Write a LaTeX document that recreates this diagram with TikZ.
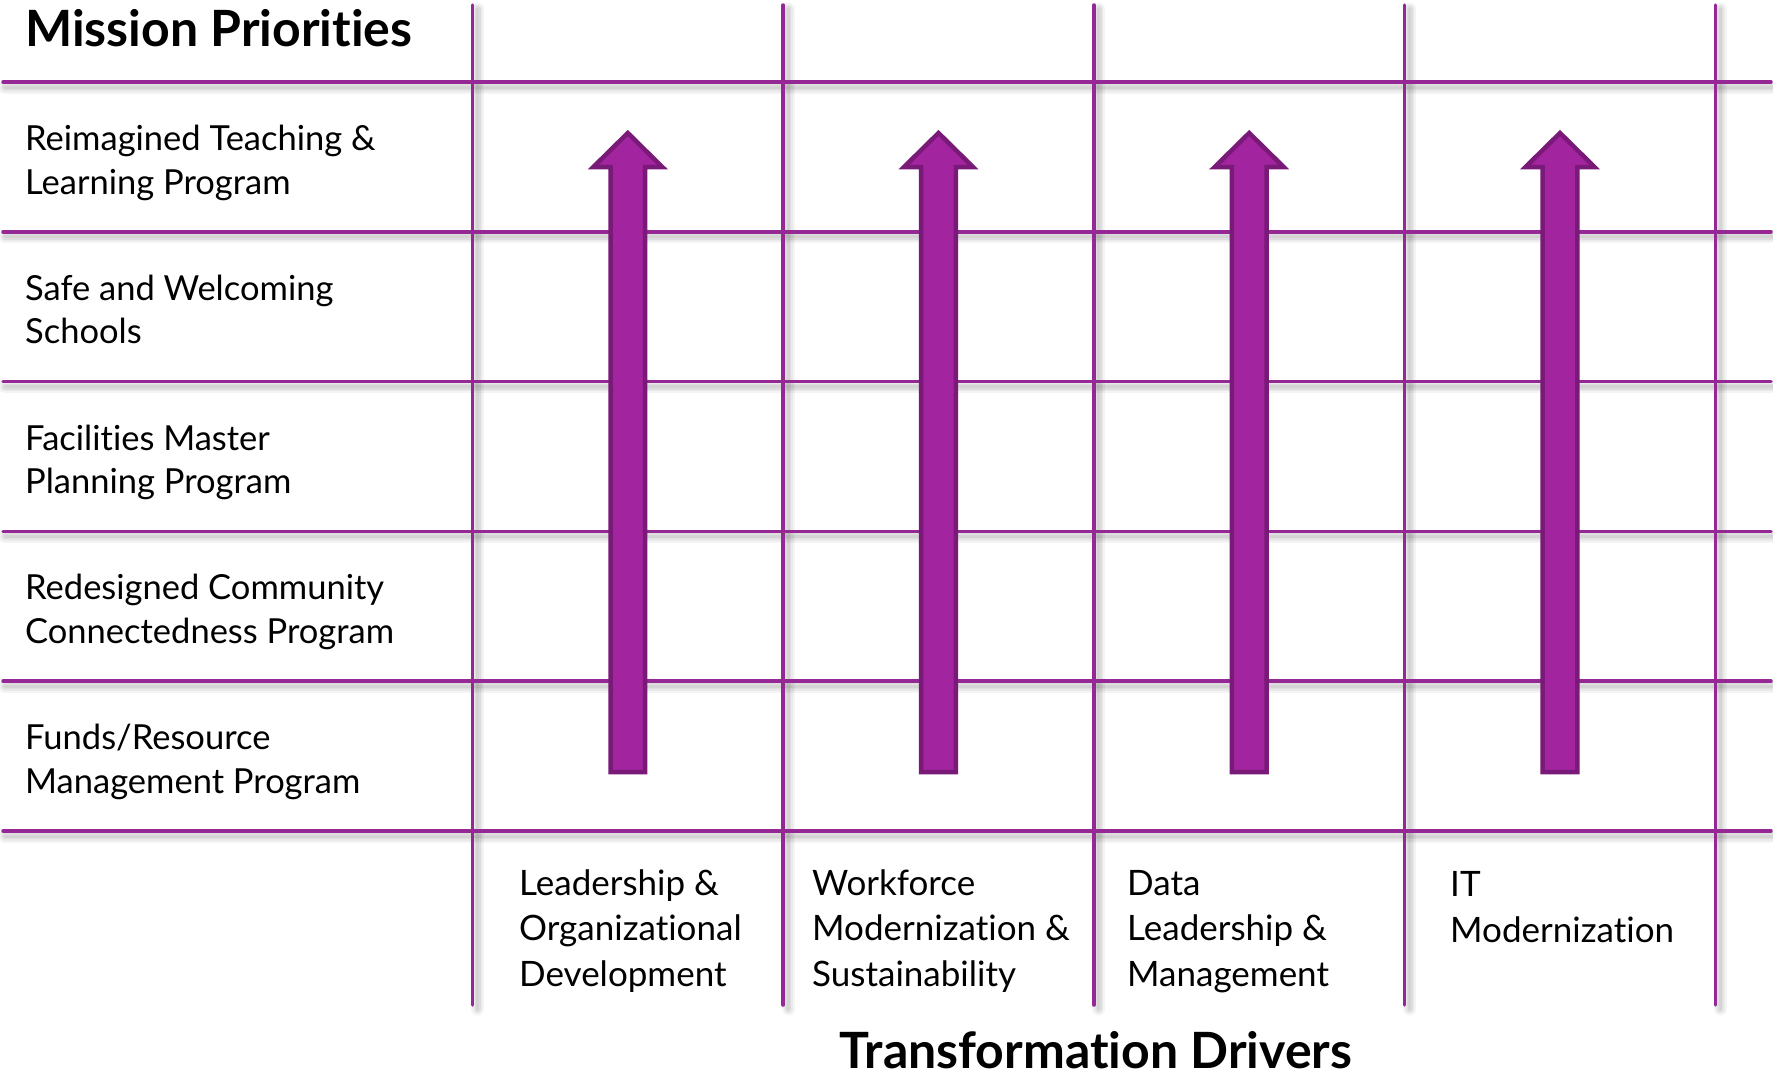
\documentclass[tikz,border=0pt]{standalone}
\usepackage{fontspec}
\setmainfont{Lato}[Ligatures=NoCommon]
\definecolor{gridpurple}{HTML}{962896}
\definecolor{arrowfill}{HTML}{A3249F}
\definecolor{arrowedge}{HTML}{7A1A78}
\tikzset{
  gridline/.style={draw=gridpurple, line width=3.5, line cap=round},
  softshadow/.style={draw=black, opacity=0.045, line width=#1, line cap=round},
  drivearrow/.style={fill=arrowfill, draw=arrowedge, line width=4.5, line join=miter},
  rowlabel/.style={anchor=base west, align=left, inner sep=0,
    font={\fontsize{34.5}{43.5}\selectfont}},
  collabel/.style={anchor=base west, align=left, inner sep=0,
    font={\fontsize{35}{45.5}\selectfont}},
  heading/.style={inner sep=0, font={\fontsize{50}{54}\selectfont\bfseries}},
}
\begin{document}
\begin{tikzpicture}[x=1pt, y=-1pt]
\useasboundingbox (0,0) rectangle (1773,1077);
\fill[white] (0,0) rectangle (1773,1077);

% grid positions
\def\rowys{82,231.8,381.6,531.4,681.2,831}
\def\colxs{472.5,783.2,1093.9,1404.6,1715.3}

% soft drop shadows under the grid lines
\foreach \y in \rowys {
  \foreach \w in {13,9,6,3}
    \draw[softshadow=\w] (5,\y+5) -- (1773,\y+5);
}
\foreach \x in \colxs {
  \foreach \w in {13,9,6,3}
    \draw[softshadow=\w] (\x+5,9) -- (\x+5,1009);
}

% grid lines
\foreach \y [count=\i] in \rowys {
  \coordinate (hl\i) at (3,\y);
  \coordinate (hr\i) at (1771,\y);
  \draw[gridline] (hl\i) -- (hr\i);
}
\foreach \x [count=\i] in \colxs {
  \coordinate (vt\i) at (\x,5);
  \coordinate (vb\i) at (\x,1005);
  \draw[gridline] (vt\i) -- (vb\i);
}

% upward arrows, one per driver column
\foreach \c [count=\i] in {627.8,938.5,1249.2,1560} {
  \coordinate (arr\i) at (\c,133);
  \draw[drivearrow] (\c-17.3,772) -- (\c-17.3,167) -- (\c-34.5,167)
    -- (arr\i) -- (\c+34.5,167) -- (\c+17.3,167) -- (\c+17.3,772) -- cycle;
}

% mission priorities (anchored on the baseline of the last line)
\node[heading, anchor=base west] (mp) at (25,46.7) {Mission Priorities};
\node[rowlabel] (r1) at (25,194) {Reimagined Teaching \&\\Learning Program};
\node[rowlabel] (r2) at (25,343.8) {Safe and Welcoming\\Schools};
\node[rowlabel] (r3) at (25,493.6) {Facilities Master\\Planning Program};
\node[rowlabel] (r4) at (25,643.4) {Redesigned Community\\Connectedness Program};
\node[rowlabel] (r5) at (25,793.2) {Funds/Resource\\Management Program};

% transformation drivers
\node[collabel] (d1) at (519,986) {Leadership \&\\Organizational\\Development};
\node[collabel] (d2) at (812,986) {Workforce\\Modernization \&\\Sustainability};
\node[collabel] (d3) at (1127,986) {Data\\Leadership \&\\Management};
\node[collabel] (d4) at (1450,942.2) {IT\\Modernization};
\node[heading, anchor=base] (td) at (1096,1068) {Transformation Drivers};
\end{tikzpicture}
\end{document}
